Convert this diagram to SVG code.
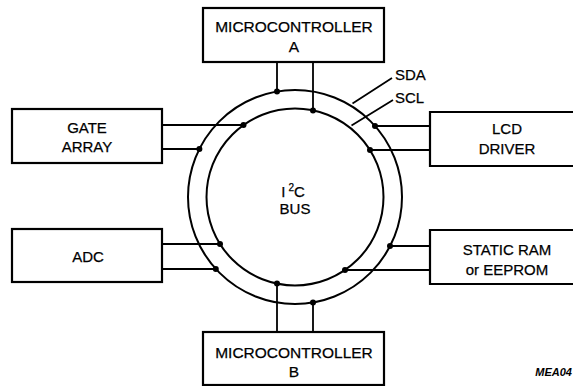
<svg xmlns="http://www.w3.org/2000/svg" width="573" height="386" viewBox="0 0 573 386">
<style>
.box{fill:#fff;stroke:#000;stroke-width:2.2}
.ring{fill:none;stroke:#000;stroke-width:2}
.w{fill:none;stroke:#000;stroke-width:1.8}
.dot{fill:#000}
text{font-family:"Liberation Sans",Arial,sans-serif;font-size:15px;fill:#000;text-anchor:middle;stroke:#000;stroke-width:0.25}
.mc{font-size:15.5px}
.sm{font-size:15px;text-anchor:start}
.tag{font-size:11px;font-weight:bold;font-style:italic;text-anchor:end;stroke:none}
</style>
<rect width="573" height="386" fill="#fff"/>
<g id="bus">
<circle class="ring" cx="295" cy="197" r="107"/>
<circle class="ring" cx="295" cy="197" r="88.5"/>
<text x="293" y="197">I<tspan font-size="10" dx="3" dy="-6">2</tspan><tspan dy="6">C</tspan></text>
<text x="295" y="214">BUS</text>
</g>
<g id="connectors">
<path class="w" d="M277,62V91.5M313,62V110.4"/>
<path class="w" d="M277,332V283.6M313,332V302.5"/>
<path class="w" d="M162,125H243.5M162,149H199.4"/>
<path class="w" d="M162,244H220M162,269H215.8"/>
<path class="w" d="M430,126H375M430,150H370"/>
<path class="w" d="M430,246H390M430,270H345"/>
<path class="w" d="M392,78L352.5,103.5M393,100L351.5,125.5"/>
<circle class="dot" cx="277" cy="91.5" r="3"/>
<circle class="dot" cx="313" cy="110.4" r="3"/>
<circle class="dot" cx="277" cy="283.6" r="3"/>
<circle class="dot" cx="313" cy="302.5" r="3"/>
<circle class="dot" cx="243.5" cy="125" r="3"/>
<circle class="dot" cx="199.4" cy="149" r="3"/>
<circle class="dot" cx="220" cy="244" r="3"/>
<circle class="dot" cx="215.8" cy="269" r="3"/>
<circle class="dot" cx="375" cy="126" r="3"/>
<circle class="dot" cx="370" cy="150" r="3"/>
<circle class="dot" cx="390" cy="246" r="3"/>
<circle class="dot" cx="345" cy="270" r="3"/>
</g>
<g id="labels">
<text class="sm" x="395" y="80">SDA</text>
<text class="sm" x="395" y="103">SCL</text>
<text class="tag" x="572" y="376">MEA04</text>
</g>
<g id="mcuA">
<rect class="box" x="203" y="8" width="181" height="54"/>
<text class="mc" x="294" y="32">MICROCONTROLLER</text>
<text class="mc" x="294" y="52">A</text>
</g>
<g id="gateArray">
<rect class="box" x="12" y="109" width="150" height="54"/>
<text x="87" y="133">GATE</text>
<text x="87" y="152">ARRAY</text>
</g>
<g id="adc">
<rect class="box" x="12" y="229" width="150" height="53"/>
<text x="88" y="262">ADC</text>
</g>
<g id="lcd">
<path class="box" d="M573,112H430V166H573"/>
<text x="507" y="134">LCD</text>
<text x="507" y="154">DRIVER</text>
</g>
<g id="ram">
<path class="box" d="M573,230H430V284H573"/>
<text x="507" y="255">STATIC RAM</text>
<text x="507" y="275">or EEPROM</text>
</g>
<g id="mcuB">
<rect class="box" x="203" y="332" width="181" height="53"/>
<text class="mc" x="294" y="358">MICROCONTROLLER</text>
<text class="mc" x="294" y="377">B</text>
</g>
</svg>
